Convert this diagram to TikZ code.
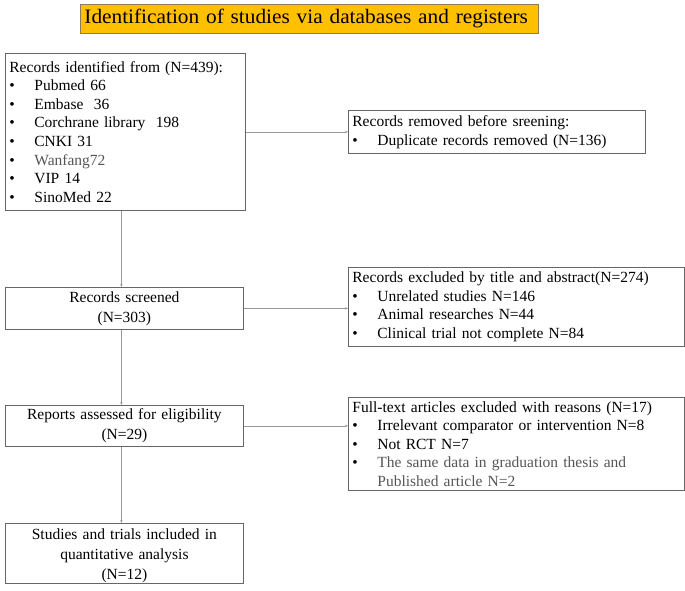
\documentclass[tikz,border=0pt]{standalone}
\usepackage{fontspec}
\setmainfont{Liberation Serif}
\newfontfamily\titlefont{Liberation Serif}[FakeStretch=1.04]
\usetikzlibrary{arrows.meta}
\definecolor{titlefill}{HTML}{FFC000}
\definecolor{titleline}{HTML}{8C7B55}
\definecolor{boxline}{HTML}{666666}
\definecolor{arrline}{HTML}{999999}
\definecolor{lighttext}{HTML}{555555}
\newcommand{\bul}{\makebox[25pt][l]{•}}
\tikzset{
  box/.style={draw=boxline, line width=0.8pt, anchor=north west, inner xsep=4pt, inner ysep=2pt,
    font=\fontsize{15.5}{18.6}\selectfont},
  lbox/.style={box, align=left},
  cbox/.style={box, align=center, font=\fontsize{15.5}{19.8}\selectfont},
  arr/.style={draw=arrline, line width=0.6pt, -{Stealth[length=3pt,width=2.5pt]}},
}
\begin{document}
\begin{tikzpicture}[x=1pt,y=-1pt]
\useasboundingbox (0,0) rectangle (685,591);
\node[draw=titleline, fill=titlefill, line width=0.8pt, anchor=north west, minimum width=458pt, minimum height=29pt, inner xsep=4pt, inner ysep=0pt,
  text width=450pt, align=left, font=\titlefont\fontsize{20.5}{24}\selectfont] (title) at (80,4) {Identification of studies via databases and registers};
\node[lbox, minimum width=240pt, minimum height=157pt, text width=232pt] (b1) at (5,53) {Records identified from (N=439):\\
\bul Pubmed 66\\
\bul Embase\ \ 36\\
\bul Corchrane library\ \ 198\\
\bul CNKI 31\\
\bul\textcolor{lighttext}{Wanfang72}\\
\bul VIP 14\\
\bul SinoMed 22};
\node[lbox, minimum width=297pt, minimum height=43pt, text width=289pt] (b2) at (348,110) {Records removed before sreening:\\
\bul Duplicate records removed (N=136)};
\node[cbox, minimum width=238pt, minimum height=42pt, text width=230pt] (b3) at (5,287) {Records screened\\(N=303)};
\node[lbox, minimum width=336pt, minimum height=79pt, text width=328pt] (b4) at (348,267) {Records excluded by title and abstract(N=274)\\
\bul Unrelated studies N=146\\
\bul Animal researches N=44\\
\bul Clinical trial not complete N=84};
\node[cbox, minimum width=238pt, minimum height=41pt, text width=230pt] (b5) at (5,405) {Reports assessed for eligibility\\(N=29)};
\node[lbox, minimum width=336pt, minimum height=93pt, text width=328pt] (b6) at (348,397) {Full-text articles excluded with reasons (N=17)\\
\bul Irrelevant comparator or intervention N=8\\
\bul Not RCT N=7\\
\bul\textcolor{lighttext}{The same data in graduation thesis and}\\
\hspace*{25pt}\textcolor{lighttext}{Published article N=2}};
\node[cbox, inner ysep=0pt, text height=16pt, minimum width=238pt, minimum height=60pt, text width=230pt] (b7) at (5,523) {Studies and trials included in\\quantitative analysis\\(N=12)};
\draw[arr] ([xshift=-3pt]b3.north |- b1.south) -- ([xshift=-3pt]b3.north);
\draw[arr] ([xshift=-3pt]b3.south) -- ([xshift=-3pt]b3.south |- b5.north);
\draw[arr] ([xshift=-3pt]b5.south) -- ([xshift=-3pt]b5.south |- b7.north);
\draw[arr] (b2.west -| b1.east) -- (b2.west);
\draw[arr] (b3.east) -- (b3.east -| b4.west);
\draw[arr] (b5.east) -- (b5.east -| b6.west);
\end{tikzpicture}
\end{document}
